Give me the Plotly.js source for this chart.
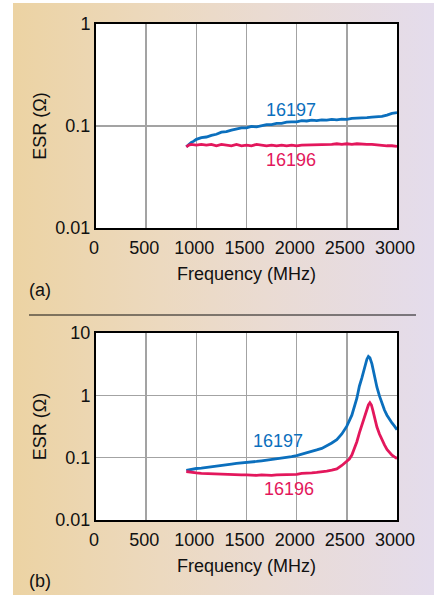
<!DOCTYPE html>
<html>
<head>
<meta charset="utf-8">
<script src="https://cdn.plot.ly/plotly-3.0.1.min.js"></script>
<style>
  html, body { margin:0; padding:0; background:#ffffff; }
  #bg { position:absolute; left:13px; top:3px; width:421px; height:592px;
        background: linear-gradient(to right, #ecd3a3 0%, #ecd9bf 35%, #eadbd2 60%, #e4dcec 100%); }
  #chart { position:absolute; left:0; top:0; width:439px; height:597px; }
</style>
</head>
<body>
<div id="bg"></div>
<div id="chart"></div>
<script>
// ---- data (frequency in MHz, ESR in ohms) ----
const freqA16197 = [900,925,950,975,1000,1050,1100,1150,1200,1250,1300,1350,1400,1450,1500,1550,1600,1650,1700,1750,1800,1850,1900,1950,2000,2050,2100,2150,2200,2250,2300,2350,2400,2450,2500,2550,2600,2650,2700,2750,2800,2850,2900,2950,3000];
const esrA16197  = [0.0625,0.066,0.069,0.071,0.074,0.077,0.078,0.081,0.083,0.087,0.088,0.091,0.093,0.096,0.096,0.099,0.098,0.100,0.103,0.103,0.106,0.106,0.109,0.110,0.110,0.113,0.112,0.114,0.113,0.115,0.114,0.116,0.115,0.117,0.116,0.119,0.119,0.121,0.121,0.122,0.123,0.124,0.128,0.133,0.135];
const freqA16196 = [900,925,950,1000,1050,1100,1150,1200,1250,1300,1350,1400,1450,1500,1550,1600,1650,1700,1750,1800,1850,1900,1950,2000,2050,2100,2150,2200,2250,2300,2350,2400,2450,2500,2550,2600,2650,2700,2750,2800,2850,2900,2950,3000];
const esrA16196  = [0.0625,0.065,0.066,0.065,0.066,0.065,0.066,0.064,0.066,0.065,0.064,0.066,0.064,0.065,0.064,0.066,0.065,0.064,0.065,0.064,0.065,0.064,0.065,0.064,0.065,0.065,0.066,0.065,0.066,0.066,0.066,0.067,0.066,0.067,0.066,0.067,0.066,0.066,0.066,0.065,0.065,0.064,0.064,0.063];

const freqB16197 = [900,950,1000,1050,1100,1150,1200,1250,1300,1350,1400,1450,1500,1550,1600,1650,1700,1750,1800,1850,1900,1950,2000,2050,2100,2150,2200,2250,2300,2350,2400,2450,2500,2550,2600,2625,2650,2675,2700,2715,2730,2750,2775,2800,2825,2850,2875,2900,2925,2950,2975,3000];
const esrB16197  = [0.0625,0.065,0.067,0.068,0.070,0.072,0.074,0.076,0.078,0.079,0.081,0.082,0.084,0.086,0.087,0.089,0.091,0.094,0.096,0.098,0.100,0.104,0.108,0.113,0.119,0.126,0.133,0.141,0.155,0.172,0.195,0.240,0.320,0.48,0.90,1.40,1.90,2.80,3.80,4.20,4.00,3.20,2.00,1.35,0.98,0.74,0.58,0.48,0.41,0.36,0.32,0.28];
const freqB16196 = [900,950,1000,1050,1100,1150,1200,1250,1300,1350,1400,1450,1500,1550,1600,1650,1700,1750,1800,1850,1900,1950,2000,2050,2100,2150,2200,2250,2300,2350,2400,2450,2500,2525,2550,2575,2600,2625,2650,2675,2700,2715,2730,2745,2760,2780,2800,2825,2850,2875,2900,2925,2950,2975,3000];
const esrB16196  = [0.060,0.058,0.057,0.056,0.0555,0.055,0.055,0.054,0.054,0.0535,0.053,0.053,0.053,0.052,0.052,0.053,0.052,0.052,0.053,0.053,0.053,0.0535,0.054,0.056,0.056,0.057,0.058,0.059,0.061,0.063,0.066,0.075,0.086,0.095,0.11,0.14,0.18,0.25,0.33,0.44,0.60,0.70,0.76,0.70,0.57,0.42,0.31,0.24,0.19,0.16,0.135,0.12,0.11,0.103,0.097];

const seriesNames = ["16197", "16196"];
const xTickVals = [0,500,1000,1500,2000,2500,3000];
const xTickText = ["0","500","1000","1500","2000","2500","3000"];
const yTickValsA = [0.01,0.1,1];
const yTickTextA = ["0.01","0.1","1"];
const yTickValsB = [0.01,0.1,1,10];
const yTickTextB = ["0.01","0.1","1","10"];
const xTitle = "Frequency (MHz)";
const yTitle = "ESR (Ω)";
const panelLabels = ["(a)", "(b)"];

// ---- styling ----
const W = 439, H = 597;
const PX = v => v / W;
const PY = v => 1 - v / H;
const BLUE = "#0b6fbd", RED = "#e3175c";
const FONT = "Liberation Sans, Arial, Helvetica, sans-serif";
const FS = 18;

const traces = [
  {x: freqA16197, y: esrA16197, xaxis:"x", yaxis:"y", name: seriesNames[0], mode:"lines", line:{color:BLUE, width:2.8}},
  {x: freqA16196, y: esrA16196, xaxis:"x", yaxis:"y", name: seriesNames[1], mode:"lines", line:{color:RED, width:2.8}},
  {x: freqB16197, y: esrB16197, xaxis:"x2", yaxis:"y2", name: seriesNames[0], mode:"lines", line:{color:BLUE, width:2.8}},
  {x: freqB16196, y: esrB16196, xaxis:"x2", yaxis:"y2", name: seriesNames[1], mode:"lines", line:{color:RED, width:2.8}}
];

function xAxis(anchor) {
  return {
    anchor: anchor, domain:[PX(96), PX(397)], range:[0,3000],
    tickvals: xTickVals, ticktext: xTickText, ticks:"",
    showgrid:true, gridcolor:"#a3a3a3", gridwidth:1.5, zeroline:false,
    showline:true, mirror:true, linecolor:"#000", linewidth:2,
    tickfont:{family:FONT, size:FS, color:"#111"},
    ticklabelstandoff: 2, ticklabelshift: -2,
    title:{text:xTitle, font:{family:FONT, size:FS, color:"#111"}, standoff:11},
    automargin:false
  };
}
function yAxis(anchor, dom, rng, tv, tt) {
  return {
    anchor: anchor, domain: dom, type:"log", range: rng,
    tickvals: tv, ticktext: tt, ticks:"",
    showgrid:true, gridcolor:"#a3a3a3", gridwidth:1.5, zeroline:false,
    showline:true, mirror:true, linecolor:"#000", linewidth:2,
    tickfont:{family:FONT, size:FS, color:"#111"},
    title:{text:yTitle, font:{family:FONT, size:FS, color:"#111"}, standoff:4},
    automargin:false
  };
}

const ann = (text, px, py, color) => ({
  text: text, xref:"paper", yref:"paper", x: PX(px), y: PY(py),
  xanchor:"center", yanchor:"middle", showarrow:false,
  font:{family:FONT, size:FS, color: color}
});

const layout = {
  width: W, height: H,
  margin:{l:0, r:0, t:0, b:0},
  paper_bgcolor:"rgba(0,0,0,0)", plot_bgcolor:"#ffffff",
  showlegend:false,
  xaxis: xAxis("y"),
  yaxis: yAxis("x", [PY(228), PY(24)], [-2, 0], yTickValsA, yTickTextA),
  xaxis2: xAxis("y2"),
  yaxis2: yAxis("x2", [PY(520), PY(333)], [-2, 1], yTickValsB, yTickTextB),
  shapes:[{type:"line", xref:"paper", yref:"paper", x0:PX(29), x1:PX(416), y0:PY(315), y1:PY(315), line:{color:"#111", width:1}}],
  annotations:[
    ann(panelLabels[0], 40, 290, "#111"),
    ann(panelLabels[1], 40, 580.5, "#111"),
    ann(seriesNames[0], 290.5, 110, BLUE),
    ann(seriesNames[1], 290.5, 160, RED),
    ann(seriesNames[0], 277.5, 440.5, BLUE),
    ann(seriesNames[1], 289, 489, RED)
  ]
};

Plotly.newPlot("chart", traces, layout, {displayModeBar:false, staticPlot:true});
</script>
</body>
</html>
